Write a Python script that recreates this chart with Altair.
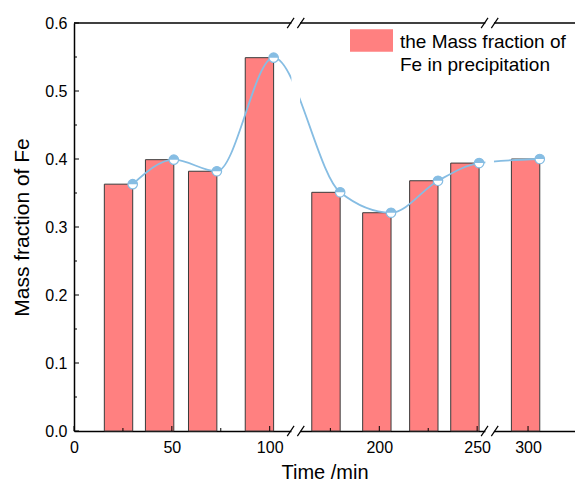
import altair as alt
import pandas as pd

# ---------------- data ----------------
times = [30, 51, 73, 102, 180, 206, 230, 251, 306]          # min
fe_fraction = [0.363, 0.399, 0.382, 0.549, 0.351, 0.321, 0.368, 0.394, 0.400]
x_major_times = [0, 50, 100, 200, 250, 300]
x_minor_times = [25, 75, 175, 225]
y_major = [0.0, 0.1, 0.2, 0.3, 0.4, 0.5, 0.6]
y_minor = [0.05, 0.15, 0.25, 0.35, 0.45, 0.55]
series_name = "the Mass fraction of\nFe in precipitation"

# ---------------- broken x axis (display units) ----------------
BREAK1, BREAK2 = 113.3, 212.4      # display positions of the two axis breaks
SHIFT2, SHIFT3 = 44.0, 68.0        # time removed by each break
BAR_W = 14.5                       # bar width in display units
W, H = 501, 408
FONT = "Liberation Sans"
RED = "#ff8080"
BLUE = "#86bde3"


def to_disp(t):
    if t <= BREAK1:
        return t
    if t - SHIFT2 <= BREAK2:
        return t - SHIFT2
    return t - SHIFT3


df = pd.DataFrame({"time": times, "fe": fe_fraction})
df["pos"] = [to_disp(t) for t in times]
df["left"] = df["pos"] - BAR_W

xs = alt.Scale(domain=[0, 256], nice=False, zero=False)
ys = alt.Scale(domain=[0, 0.6], nice=False)

label_expr = (f"'' + round(datum.value <= {BREAK1 + 0.5} ? datum.value : "
              f"(datum.value <= {BREAK2} ? datum.value + {SHIFT2} : datum.value + {SHIFT3}))")

x_axis = alt.Axis(values=[to_disp(t) for t in x_major_times], labelExpr=label_expr,
                  title="Time /min", ticks=False, grid=False, labelFlush=False,
                  labelFontSize=16, labelFont=FONT, labelColor="black", labelPadding=8,
                  titleFontSize=20, titleFont=FONT, titleFontWeight="normal",
                  titleColor="black", titlePadding=7, domainColor="black",
                  domainWidth=1.5, zindex=0)
y_axis = alt.Axis(values=y_major, format=".1f", title="Mass fraction of Fe",
                  ticks=False, grid=False, labelFlush=False,
                  labelFontSize=16, labelFont=FONT, labelColor="black", labelPadding=7,
                  titleFontSize=21, titleFont=FONT, titleFontWeight="normal",
                  titleColor="black", titlePadding=12, domainColor="black",
                  domainWidth=1.5, zindex=0)

base = alt.Chart(df)

# bars first so that their axis definitions lead the merge
bars = base.mark_rect(fill=RED, stroke="#3a3a3a", strokeWidth=1).encode(
    x=alt.X("left:Q", scale=xs, axis=x_axis),
    x2="pos:Q",
    y=alt.Y("fe:Q", scale=ys, axis=y_axis),
    y2=alt.datum(0),
)

# frame top line
top_line = alt.Chart(pd.DataFrame({"v": [0.6]})).mark_rule(color="black", strokeWidth=1.5).encode(
    y=alt.Y("v:Q", scale=ys), x=alt.value(0), x2=alt.value(W))

# inward ticks
ytick_df = pd.DataFrame({"v": y_major + y_minor,
                         "len": [5] * len(y_major) + [3] * len(y_minor)})
yticks = alt.Chart(ytick_df).transform_filter("datum.len == 5").mark_rule(
    color="black", strokeWidth=1).encode(
    y=alt.Y("v:Q", scale=ys), x=alt.value(0), x2=alt.value(5))
yticks_minor = alt.Chart(ytick_df).transform_filter("datum.len == 3").mark_rule(
    color="black", strokeWidth=1).encode(
    y=alt.Y("v:Q", scale=ys), x=alt.value(0), x2=alt.value(3))

xtick_df = pd.DataFrame({"p": [to_disp(t) for t in x_major_times + x_minor_times],
                         "len": [5] * len(x_major_times) + [3] * len(x_minor_times)})
xticks = alt.Chart(xtick_df).transform_filter("datum.len == 5").mark_rule(
    color="black", strokeWidth=1).encode(
    x=alt.X("p:Q", scale=xs), y=alt.value(H), y2=alt.value(H - 5))
xticks_minor = alt.Chart(xtick_df).transform_filter("datum.len == 3").mark_rule(
    color="black", strokeWidth=1).encode(
    x=alt.X("p:Q", scale=xs), y=alt.value(H), y2=alt.value(H - 3))

line = base.mark_line(interpolate="monotone", color=BLUE, strokeWidth=1.8).encode(
    x=alt.X("pos:Q", scale=xs), y=alt.Y("fe:Q", scale=ys))

pts_white = base.mark_point(shape="circle", filled=True, fill="white", stroke=BLUE,
                            strokeWidth=1.2, size=90, opacity=1).encode(
    x=alt.X("pos:Q", scale=xs), y=alt.Y("fe:Q", scale=ys))
pts_half = base.mark_point(shape="M -1 0 A 1 1 0 0 1 1 0 Z", filled=True, fill=BLUE,
                           strokeWidth=0, size=90, opacity=1).encode(
    x=alt.X("pos:Q", scale=xs), y=alt.Y("fe:Q", scale=ys))

# gaps at the axis breaks
breaks = pd.DataFrame({"c": [BREAK1, BREAK2]})
bands = alt.Chart(breaks).transform_calculate(
    a="datum.c - 2.2", b="datum.c + 2.2", ya="-0.004", yb="0.604").mark_rect(fill="white").encode(
    x=alt.X("a:Q", scale=xs), x2="b:Q",
    y=alt.Y("ya:Q", scale=ys), y2="yb:Q")

slash_df = pd.DataFrame({"c": [BREAK1, BREAK1, BREAK2, BREAK2] * 2,
                         "d": [-2.6, 2.6, -2.6, 2.6] * 2,
                         "y0": [0.0] * 4 + [0.6] * 4})
slashes = alt.Chart(slash_df).transform_calculate(
    xa="datum.c + datum.d - 1.75", xb="datum.c + datum.d + 1.75",
    ya="datum.y0 - 0.0075", yb="datum.y0 + 0.0075").mark_rule(
    color="black", strokeWidth=1.2).encode(
    x=alt.X("xa:Q", scale=xs), x2="xb:Q",
    y=alt.Y("ya:Q", scale=ys), y2="yb:Q")

# legend
leg_df = pd.DataFrame({"name": [series_name]})
leg_rect = alt.Chart(leg_df).mark_rect(fill=RED).encode(
    x=alt.value(276), x2=alt.value(319), y=alt.value(6.3), y2=alt.value(28.7))
leg_text = alt.Chart(leg_df).mark_text(align="left", baseline="alphabetic", lineBreak="\n",
                                       lineHeight=23, font=FONT, fontSize=19,
                                       color="black").encode(
    text="name:N", x=alt.value(326), y=alt.value(24.7))

chart = alt.layer(
    bars, top_line, yticks, yticks_minor, xticks, xticks_minor, line,
    pts_white, pts_half, bands, slashes, leg_rect, leg_text
).properties(
    width=W, height=H, autosize="none",
    padding={"left": 74, "top": 23, "right": 0, "bottom": 50},
    background="white",
).configure_view(stroke=None)

chart.save("out.html", embed_options={"renderer": "svg", "actions": False})
